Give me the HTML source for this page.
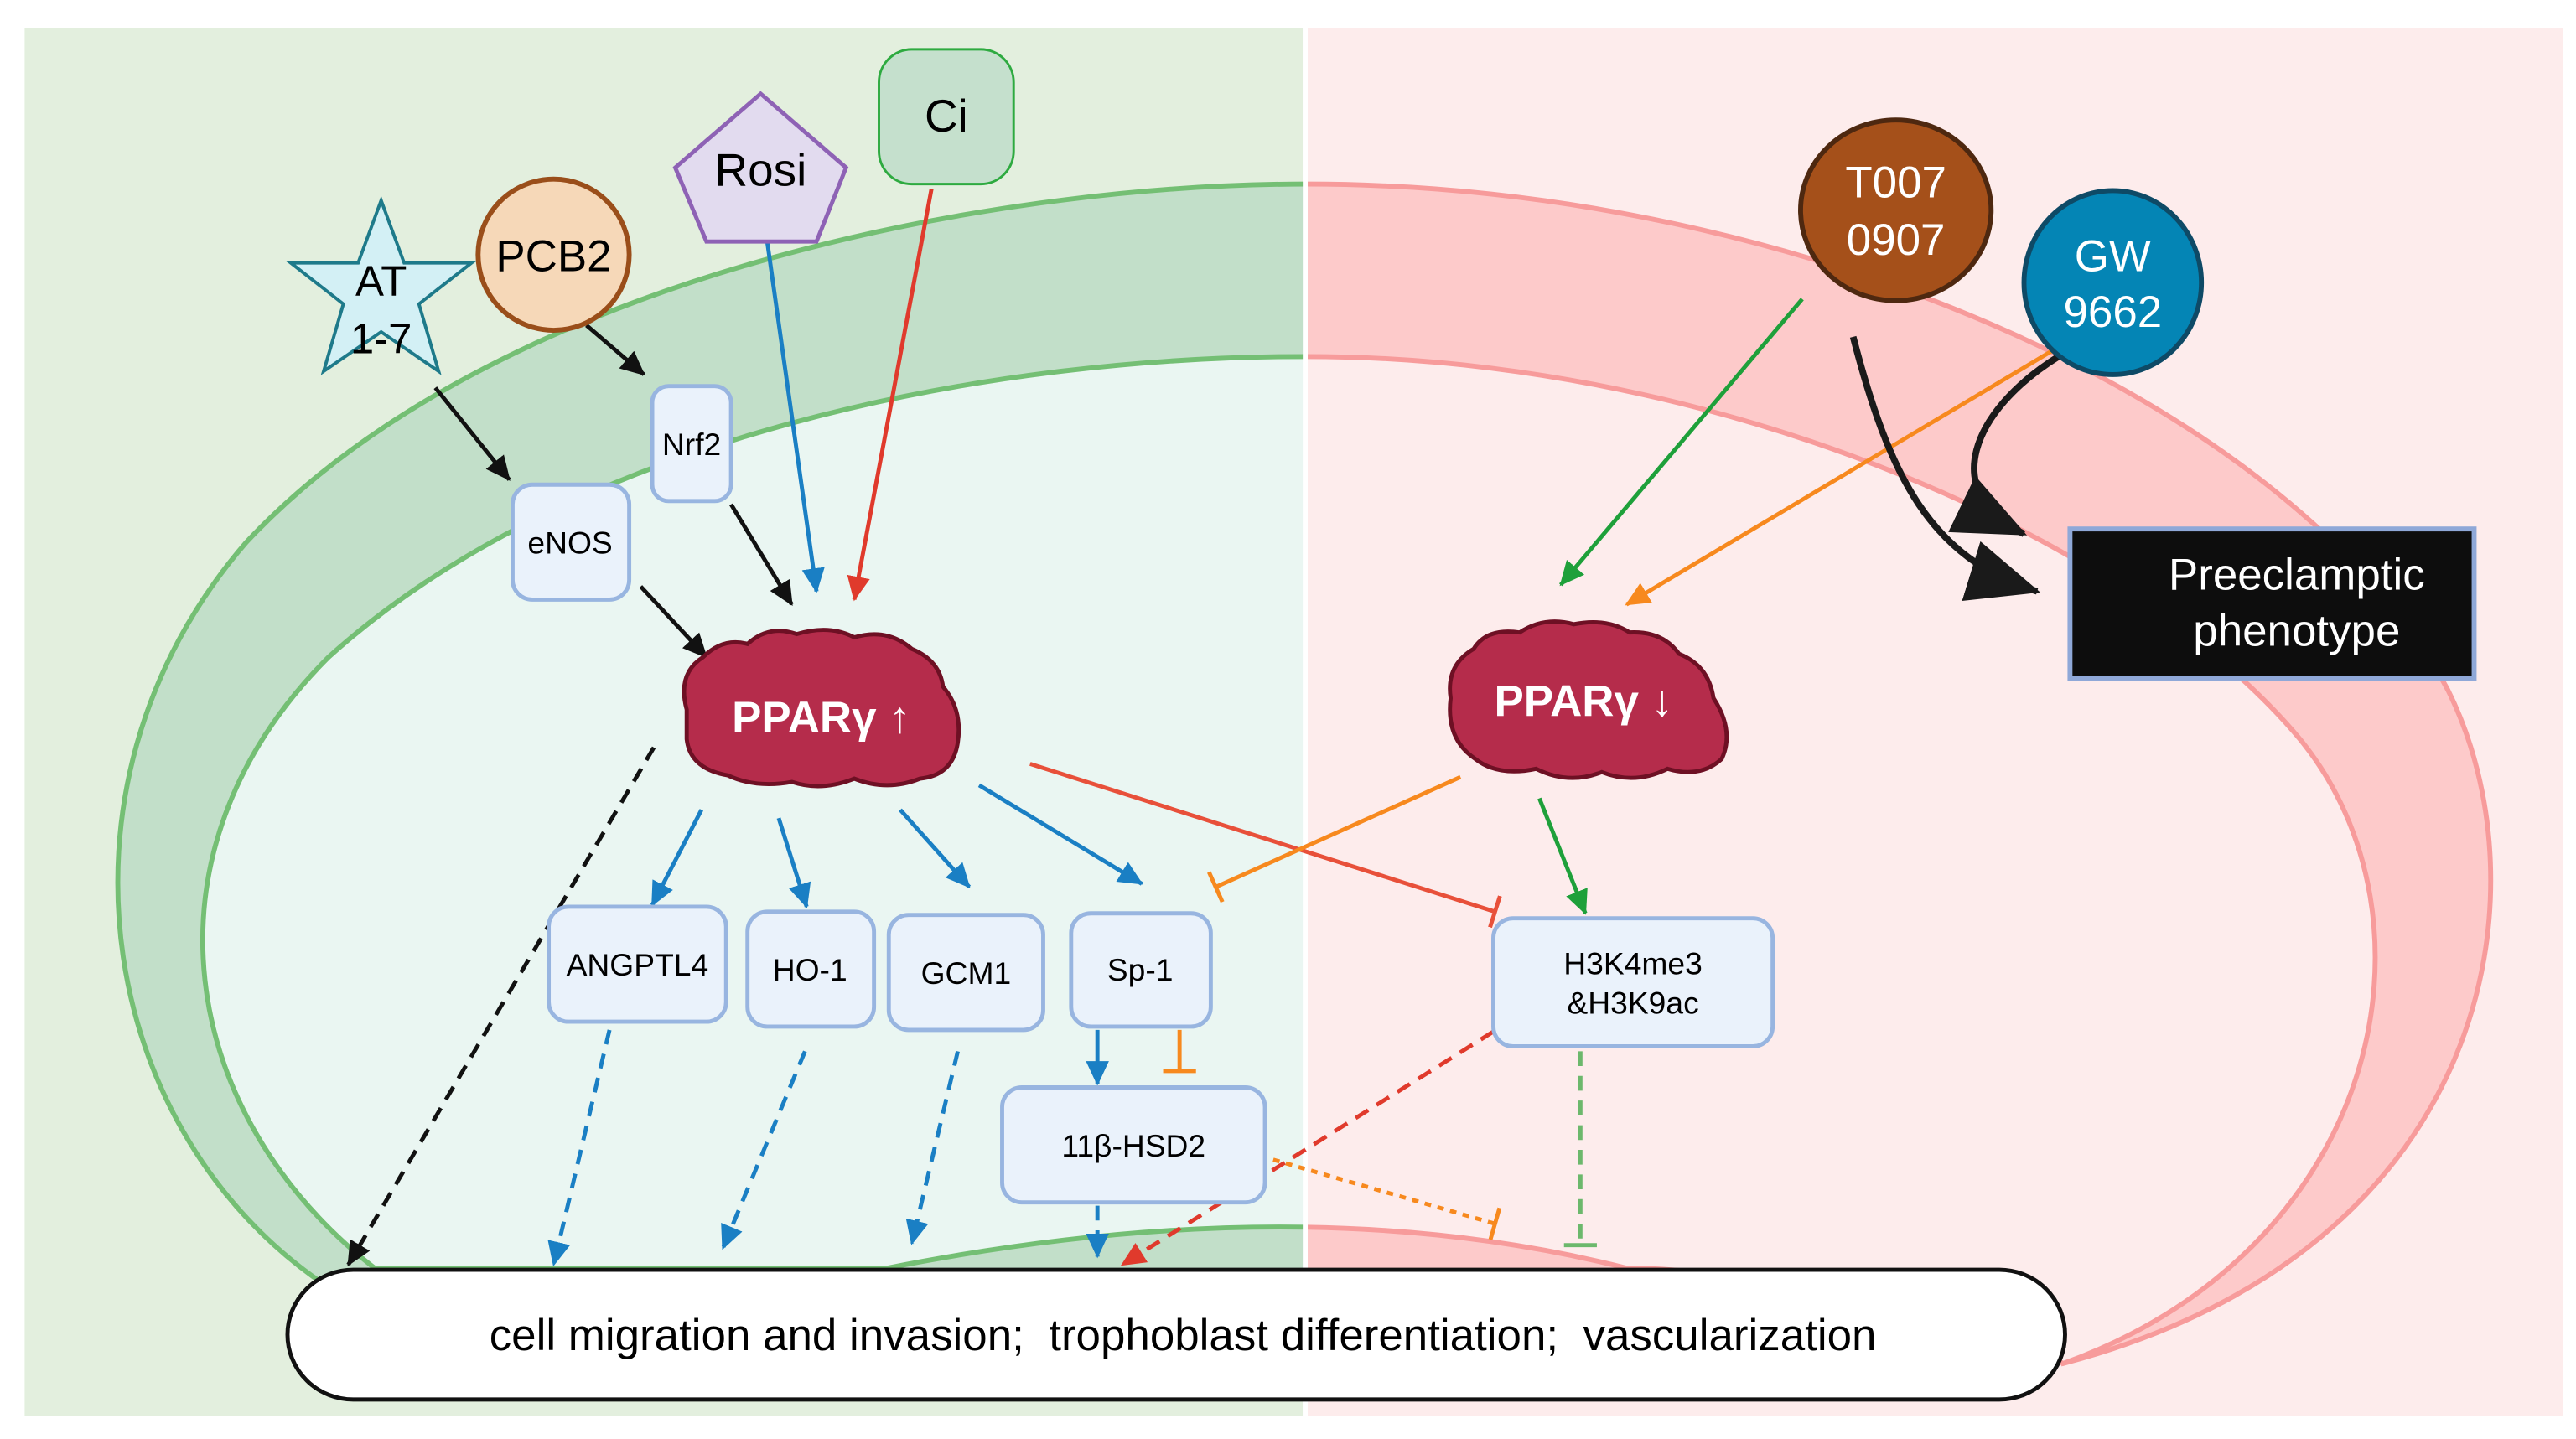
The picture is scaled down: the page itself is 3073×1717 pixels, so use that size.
<!DOCTYPE html>
<html><head><meta charset="utf-8"><style>
html,body{margin:0;padding:0;background:#fff}
svg{display:block}
text{font-family:"Liberation Sans",sans-serif}
</style></head><body>
<svg width="3073" height="1717" viewBox="0 0 1568 876" xmlns="http://www.w3.org/2000/svg">
<defs>
<clipPath id="L"><rect x="0" y="0" width="795" height="876"/></clipPath>
<clipPath id="R"><rect x="795" y="0" width="800" height="876"/></clipPath>
<marker id="ak" markerUnits="userSpaceOnUse" markerWidth="16" markerHeight="16" refX="14" refY="8" orient="auto"><path d="M0,1 L15,8 L0,15 Z" fill="#111"/></marker>
<marker id="ab" markerUnits="userSpaceOnUse" markerWidth="16" markerHeight="16" refX="14" refY="8" orient="auto"><path d="M0,1 L15,8 L0,15 Z" fill="#1a7fc4"/></marker>
<marker id="ar" markerUnits="userSpaceOnUse" markerWidth="16" markerHeight="16" refX="14" refY="8" orient="auto"><path d="M0,1 L15,8 L0,15 Z" fill="#e03a2c"/></marker>
<marker id="ag" markerUnits="userSpaceOnUse" markerWidth="16" markerHeight="16" refX="14" refY="8" orient="auto"><path d="M0,1 L15,8 L0,15 Z" fill="#1ea03a"/></marker>
<marker id="ao" markerUnits="userSpaceOnUse" markerWidth="16" markerHeight="16" refX="14" refY="8" orient="auto"><path d="M0,1 L15,8 L0,15 Z" fill="#f7891e"/></marker>
<marker id="abig" markerUnits="userSpaceOnUse" markerWidth="50" markerHeight="50" refX="42" refY="25" orient="auto"><path d="M0,6 L44,25 L0,44 Z" fill="#1a1a1a"/></marker>
<marker id="tr" markerUnits="userSpaceOnUse" markerWidth="4" markerHeight="20" refX="2" refY="10" orient="auto"><path d="M2,0 L2,20" stroke="#e8503a" stroke-width="2.5"/></marker>
<marker id="to" markerUnits="userSpaceOnUse" markerWidth="4" markerHeight="20" refX="2" refY="10" orient="auto"><path d="M2,0 L2,20" stroke="#f7891e" stroke-width="2.5"/></marker>
<marker id="tg" markerUnits="userSpaceOnUse" markerWidth="4" markerHeight="20" refX="2" refY="10" orient="auto"><path d="M2,0 L2,20" stroke="#6cb86c" stroke-width="2.5"/></marker>
</defs>

<rect x="15" y="17" width="778" height="845" fill="#e3efde"/>
<rect x="796" y="17" width="764" height="845" fill="#fdecec"/>

<g clip-path="url(#L)">
<path d="M210 790 C60 700,20 480,150 330 C300 170,600 112,795 112 C1100 112,1400 250,1490 420 C1550 540,1520 760,1256 830 L1250 800 L210 800 Z" fill="#c2dfc9" stroke="#74bf74" stroke-width="3"/>
<path d="M228 772 C110 680,80 520,200 400 C350 265,600 217,795 217 C1050 217,1300 330,1400 450 C1490 560,1450 760,1256 830 C1150 790,1050 772,990 772 Q793 722 540 772 Z" fill="#eaf6f2" stroke="#74bf74" stroke-width="3"/>
</g>
<g clip-path="url(#R)">
<path d="M210 790 C60 700,20 480,150 330 C300 170,600 112,795 112 C1100 112,1400 250,1490 420 C1550 540,1520 760,1256 830 L1250 800 L210 800 Z" fill="#fdcaca" stroke="#f79b9b" stroke-width="3"/>
<path d="M228 772 C110 680,80 520,200 400 C350 265,600 217,795 217 C1050 217,1300 330,1400 450 C1490 560,1450 760,1256 830 C1150 790,1050 772,990 772 Q793 722 540 772 Z" fill="#fdecec" stroke="#f79b9b" stroke-width="3"/>
</g>
<line x1="794.5" y1="17" x2="794.5" y2="862" stroke="#fff" stroke-width="3"/>

<g fill="none" stroke-width="2.5">
<line x1="265" y1="236" x2="310" y2="292" stroke="#111" marker-end="url(#ak)"/>
<line x1="357" y1="198" x2="392" y2="228" stroke="#111" marker-end="url(#ak)"/>
<line x1="445" y1="307" x2="482" y2="368" stroke="#111" marker-end="url(#ak)"/>
<line x1="390" y1="357" x2="430" y2="400" stroke="#111" marker-end="url(#ak)"/>
<line x1="467" y1="147" x2="497" y2="360" stroke="#1a7fc4" marker-end="url(#ab)"/>
<line x1="567" y1="115" x2="520" y2="365" stroke="#e03a2c" marker-end="url(#ar)"/>
<line x1="1097" y1="182" x2="950" y2="356" stroke="#1ea03a" marker-end="url(#ag)"/>
<line x1="1250" y1="213" x2="990" y2="368" stroke="#f7891e" marker-end="url(#ao)"/>
<path d="M1128 205 C1150 290,1175 340,1240 360" stroke="#1a1a1a" stroke-width="4" marker-end="url(#abig)"/>
<path d="M1253 217 C1200 250,1180 300,1232 325" stroke="#1a1a1a" stroke-width="4" marker-end="url(#abig)"/>
<line x1="427" y1="493" x2="397" y2="551" stroke="#1a7fc4" marker-end="url(#ab)"/>
<line x1="474" y1="498" x2="491" y2="552" stroke="#1a7fc4" marker-end="url(#ab)"/>
<line x1="548" y1="493" x2="590" y2="540" stroke="#1a7fc4" marker-end="url(#ab)"/>
<line x1="596" y1="478" x2="695" y2="538" stroke="#1a7fc4" marker-end="url(#ab)"/>
<line x1="627" y1="465" x2="910" y2="555" stroke="#e8503a" marker-end="url(#tr)"/>
<line x1="889" y1="473" x2="740" y2="540" stroke="#f7891e" marker-end="url(#to)"/>
<line x1="937" y1="486" x2="965" y2="556" stroke="#1ea03a" marker-end="url(#ag)"/>
<line x1="668" y1="627" x2="668" y2="660" stroke="#1a7fc4" marker-end="url(#ab)"/>
<line x1="718" y1="627" x2="718" y2="652" stroke="#f7891e" marker-end="url(#to)"/>
<g stroke-dasharray="9,6">
<line x1="398" y1="455" x2="212" y2="770" stroke="#111" marker-end="url(#ak)"/>
<line x1="371" y1="627" x2="337" y2="770" stroke="#1a7fc4" marker-end="url(#ab)"/>
<line x1="490" y1="640" x2="440" y2="760" stroke="#1a7fc4" marker-end="url(#ab)"/>
<line x1="583" y1="640" x2="555" y2="757" stroke="#1a7fc4" marker-end="url(#ab)"/>
<line x1="668" y1="734" x2="668" y2="765" stroke="#1a7fc4" marker-end="url(#ab)"/>
<line x1="909" y1="628" x2="683" y2="770" stroke="#e03a2c" marker-end="url(#ar)"/>
<line x1="962" y1="640" x2="962" y2="758" stroke="#6cb86c" marker-end="url(#tg)"/>
</g>
<line x1="775" y1="706" x2="910" y2="745" stroke="#f7891e" stroke-dasharray="4,4" marker-end="url(#to)"/>
</g>

<path d="M232,122 L246,160 L287,160 L255,185 L267,226 L232,202 L197,226 L209,185 L177,160 L218,160 Z" fill="#d3f0f5" stroke="#1e7a8a" stroke-width="2"/>
<text x="232" y="180" font-size="26" text-anchor="middle">AT</text>
<text x="232" y="215" font-size="26" text-anchor="middle">1-7</text>
<circle cx="337" cy="155" r="46" fill="#f6d8b8" stroke="#9a4e1a" stroke-width="3"/>
<text x="337" y="165" font-size="27" text-anchor="middle">PCB2</text>
<path d="M463,57 L515,102 L497,147 L430,147 L411,102 Z" fill="#e2dbef" stroke="#8e62b5" stroke-width="2.5"/>
<text x="463" y="113" font-size="28" text-anchor="middle">Rosi</text>
<rect x="535" y="30" width="82" height="82" rx="20" fill="#c5e0cd" stroke="#2eaa40" stroke-width="1.5"/>
<text x="576" y="80" font-size="28" text-anchor="middle">Ci</text>
<ellipse cx="1154" cy="128" rx="58" ry="55" fill="#a5501a" stroke="#4e2810" stroke-width="3"/>
<text x="1154" y="120" font-size="27" fill="#fff" text-anchor="middle">T007</text>
<text x="1154" y="155" font-size="27" fill="#fff" text-anchor="middle">0907</text>
<ellipse cx="1286" cy="172" rx="54" ry="56" fill="#0485b5" stroke="#0e4a66" stroke-width="3"/>
<text x="1286" y="165" font-size="27" fill="#fff" text-anchor="middle">GW</text>
<text x="1286" y="199" font-size="27" fill="#fff" text-anchor="middle">9662</text>
<rect x="1260" y="322" width="246" height="91" fill="#0d0d0d" stroke="#8fa8d8" stroke-width="3"/>
<text x="1398" y="359" font-size="27" fill="#fff" text-anchor="middle">Preeclamptic</text>
<text x="1398" y="393" font-size="27" fill="#fff" text-anchor="middle">phenotype</text>

<g fill="#eaf2fb" stroke="#98b5e0" stroke-width="2.5">
<rect x="397" y="235" width="48" height="70" rx="10"/>
<rect x="312" y="295" width="71" height="70" rx="12"/>
<rect x="334" y="552" width="108" height="70" rx="12"/>
<rect x="455" y="555" width="77" height="70" rx="12"/>
<rect x="541" y="557" width="94" height="70" rx="12"/>
<rect x="652" y="556" width="85" height="69" rx="12"/>
<rect x="610" y="662" width="160" height="70" rx="12"/>
<rect x="909" y="559" width="170" height="78" rx="12"/>
</g>
<g font-size="19" text-anchor="middle">
<text x="421" y="277">Nrf2</text>
<text x="347" y="337">eNOS</text>
<text x="388" y="594">ANGPTL4</text>
<text x="493" y="597">HO-1</text>
<text x="588" y="599">GCM1</text>
<text x="694" y="597">Sp-1</text>
<text x="690" y="704">11β-HSD2</text>
<text x="994" y="593">H3K4me3</text>
<text x="994" y="617">&amp;H3K9ac</text>
</g>

<path d="M418,432 Q412,410 428,400 Q440,388 455,392 Q468,380 485,386 Q505,380 520,388 Q540,382 555,395 Q572,402 574,418 Q586,432 583,452 Q580,472 560,474 Q540,482 520,474 Q500,482 482,476 Q460,480 443,472 Q420,468 418,450 Z" fill="#b52c4b" stroke="#6e1024" stroke-width="2.5"/>
<text x="500" y="446" font-size="27" font-weight="bold" fill="#fff" text-anchor="middle">PPARγ ↑</text>
<path d="M883,425 Q880,405 897,395 Q905,382 925,385 Q940,375 958,380 Q978,376 992,385 Q1012,384 1022,398 Q1040,405 1043,425 Q1056,445 1048,462 Q1035,474 1015,468 Q995,478 975,470 Q955,478 935,468 Q912,473 898,462 Q880,450 883,425 Z" fill="#b52c4b" stroke="#6e1024" stroke-width="2.5"/>
<text x="964" y="436" font-size="27" font-weight="bold" fill="#fff" text-anchor="middle">PPARγ ↓</text>

<rect x="175" y="773" width="1082" height="79" rx="40" fill="#fff" stroke="#111" stroke-width="2.5"/>
<text x="720" y="822" font-size="27" text-anchor="middle" xml:space="preserve">cell migration and invasion;  trophoblast differentiation;  vascularization</text>
</svg>
</body></html>
